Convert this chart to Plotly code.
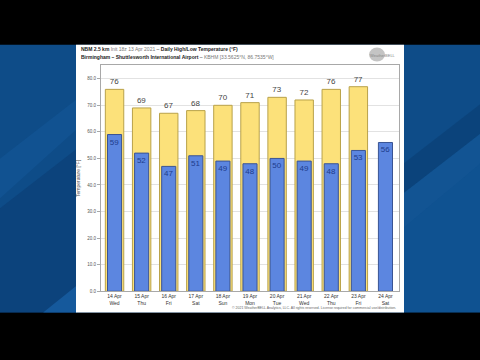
import plotly.graph_objects as go

dates = ["14 Apr", "15 Apr", "16 Apr", "17 Apr", "18 Apr", "19 Apr",
         "20 Apr", "21 Apr", "22 Apr", "23 Apr", "24 Apr"]
days = ["Wed", "Thu", "Fri", "Sat", "Sun", "Mon", "Tue", "Wed", "Thu", "Fri", "Sat"]
highs = [76, 69, 67, 68, 70, 71, 73, 72, 76, 77, None]
lows = [59, 52, 47, 51, 49, 48, 50, 49, 48, 53, 56]
y_ticks = [0, 10, 20, 30, 40, 50, 60, 70, 80]

cats = [f"{d}<br>{w}" for d, w in zip(dates, days)]

fig = go.Figure()
fig.add_trace(go.Bar(
    x=cats, y=highs, width=0.68,
    marker=dict(color="#FCE17A", line=dict(color="#B9A24A", width=1)),
    text=[str(v) if v is not None else "" for v in highs],
    textposition="outside", cliponaxis=False, constraintext="none", textangle=0,
    textfont=dict(size=8, color="#444444", family="Liberation Sans"),
    showlegend=False,
))
fig.add_trace(go.Bar(
    x=cats, y=lows, width=0.52,
    marker=dict(color="#5C86E0", line=dict(color="#3A5494", width=1)),
    text=[str(v) for v in lows],
    textposition="inside", insidetextanchor="end", constraintext="none", textangle=0,
    textfont=dict(size=8, color="#1E3C8C", family="Liberation Sans"),
    showlegend=False,
))

H = 360.0
def py(p):
    return (H - p) / H

shapes = [
    dict(type="rect", xref="paper", yref="paper", x0=0, x1=1, y0=py(315), y1=py(45),
         fillcolor="#0E4C88", line=dict(width=0), layer="below"),
    dict(type="path", xref="paper", yref="paper",
         path=f"M 0 {py(210)} L 0.16 {py(150)} L 0.16 {py(315)} L 0 {py(315)} Z",
         fillcolor="#0A3A70", opacity=0.5, line=dict(width=0), layer="below"),
    dict(type="path", xref="paper", yref="paper",
         path=f"M 0 {py(160)} L 0.16 {py(100)} L 0.16 {py(130)} L 0 {py(200)} Z",
         fillcolor="#175EA3", opacity=0.35, line=dict(width=0), layer="below"),
    dict(type="path", xref="paper", yref="paper",
         path=f"M 0.09 {py(315)} L 0.16 {py(288)} L 0.16 {py(315)} Z",
         fillcolor="#1A63AA", opacity=0.7, line=dict(width=0), layer="below"),
    dict(type="path", xref="paper", yref="paper",
         path=f"M 0.84 {py(165)} L 1 {py(105)} L 1 {py(135)} L 0.84 {py(195)} Z",
         fillcolor="#08396C", opacity=0.45, line=dict(width=0), layer="below"),
    dict(type="path", xref="paper", yref="paper",
         path=f"M 0.84 {py(195)} L 1 {py(135)} L 1 {py(165)} L 0.84 {py(230)} Z",
         fillcolor="#1A63A8", opacity=0.35, line=dict(width=0), layer="below"),
    dict(type="path", xref="paper", yref="paper",
         path=f"M 0.84 {py(230)} L 1 {py(165)} L 1 {py(315)} L 0.84 {py(315)} Z",
         fillcolor="#1560A6", opacity=0.3, line=dict(width=0), layer="below"),
    dict(type="rect", xref="paper", yref="paper", x0=76/480, x1=404/480, y0=py(315), y1=py(45),
         fillcolor="#FFFFFF", line=dict(width=0), layer="below"),
    dict(type="circle", xref="paper", yref="paper", x0=369/480, x1=385/480, y0=py(62), y1=py(48),
         fillcolor="#C4C4C4", line=dict(width=0), layer="below"),
]

annotations = [
    dict(x=79/480, y=py(49.5), xref="paper", yref="paper", xanchor="left", yanchor="middle",
         showarrow=False, align="left",
         text="<b>NBM 2.5 km</b> <span style='color:#777777'>Init 18z 13 Apr 2021</span> – <b>Daily High/Low Temperature (°F)</b>",
         font=dict(size=5, color="#222222", family="Liberation Sans")),
    dict(x=79/480, y=py(57), xref="paper", yref="paper", xanchor="left", yanchor="middle",
         showarrow=False, align="left",
         text="<b>Birmingham – Shuttlesworth International Airport</b> – <span style='color:#777777'>KBHM [33.5625°N, 86.7535°W]</span>",
         font=dict(size=5, color="#222222", family="Liberation Sans")),
    dict(x=398/480, y=py(56), xref="paper", yref="paper", xanchor="right", yanchor="middle",
         showarrow=False, text="WeatherBELL",
         font=dict(size=4, color="#888888", family="Liberation Sans")),
    dict(x=398/480, y=py(310.5), xref="paper", yref="paper", xanchor="right", yanchor="middle",
         showarrow=False,
         text="© 2021 WeatherBELL Analytics, LLC. All rights reserved. License required for commercial use/distribution.",
         font=dict(size=3.5, color="#666666", family="Liberation Sans")),
]

fig.update_layout(
    width=480, height=360,
    margin=dict(l=0, r=0, t=0, b=0),
    paper_bgcolor="#000000",
    plot_bgcolor="#F4F4F4",
    barmode="overlay",
    shapes=shapes,
    annotations=annotations,
    xaxis=dict(domain=[101/480, 399/480], showgrid=False, showline=True, mirror=True,
               linecolor="#A8A8A8", linewidth=1, ticks="",
               ticklabelstandoff=0,
               tickfont=dict(size=5, color="#333333", family="Liberation Sans"),
               fixedrange=True),
    yaxis=dict(domain=[py(293.7), py(66)], range=[0, 85], tickvals=y_ticks,
               ticktext=[f"{v:.1f}" for v in y_ticks],
               showgrid=True, gridcolor="#E2E2E2", gridwidth=1, zeroline=False,
               showline=True, mirror=True, linecolor="#A8A8A8", linewidth=1,
               ticks="outside", ticklen=3, tickcolor="#A8A8A8",
               tickfont=dict(size=4.5, color="#555555", family="Liberation Sans"),
               title=dict(text="Temperature [°F]", standoff=6,
                          font=dict(size=5, color="#555555", family="Liberation Sans"))),
)

fig.write_html("out.html", config={"displayModeBar": False},
               post_script="document.body.style.margin='0';document.body.style.overflow='hidden';")
